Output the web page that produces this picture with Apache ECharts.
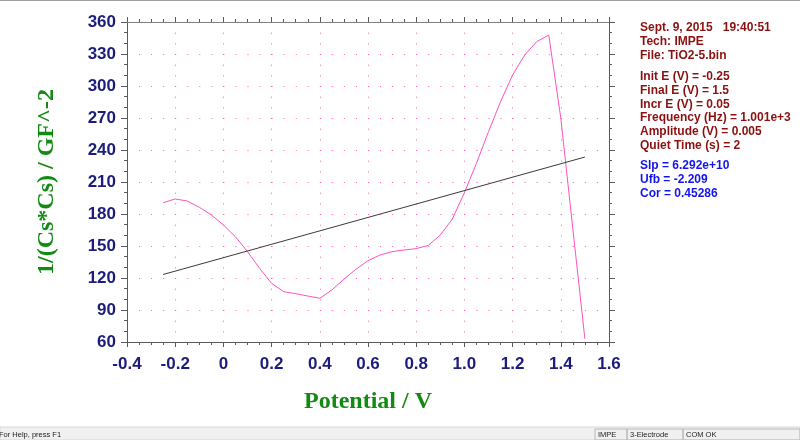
<!DOCTYPE html>
<html>
<head>
<meta charset="utf-8">
<script src="https://cdn.jsdelivr.net/npm/echarts/dist/echarts.min.js"></script>
<style>
  html, body { margin: 0; padding: 0; background: #fff; }
  #chart { width: 800px; height: 440px; }
</style>
</head>
<body>
<div id="chart"></div>
<script>
// potential (V) and 1/(Cs*Cs) readings
var potential = [-0.25, -0.2, -0.15, -0.1, -0.05, 0, 0.05, 0.1, 0.15, 0.2, 0.25, 0.3,
  0.35, 0.4, 0.45, 0.5, 0.55, 0.6, 0.65, 0.7, 0.75, 0.8, 0.85, 0.9,
  0.95, 1.0, 1.05, 1.1, 1.15, 1.2, 1.25, 1.3, 1.35, 1.4, 1.45, 1.5];
var invCs2 = [190.6, 194.1, 192.2, 186.3, 179.1, 169.7, 158.7, 144.7, 129.1, 115, 107.2, 105.3,
  103.1, 101, 108.8, 118.8, 128.2, 136.2, 141.6, 144.7, 146.3, 147.5, 150.6, 160.3,
  175.3, 200, 227.5, 257.2, 285.3, 310.3, 329, 341.6, 347.8, 270, 166, 63];
// fitted line end points
var fitX = [-0.25, 1.5];
var fitY = [123.3, 233.4];

var xTickLabels = ['-0.4', '-0.2', '0', '0.2', '0.4', '0.6', '0.8', '1.0', '1.2', '1.4', '1.6'];
var yTickLabels = ['60', '90', '120', '150', '180', '210', '240', '270', '300', '330', '360'];

var infoLines = ['Sept. 9, 2015   19:40:51', 'Tech: IMPE', 'File: TiO2-5.bin'];
var paramLines = ['Init E (V) = -0.25', 'Final E (V) = 1.5', 'Incr E (V) = 0.05',
  'Frequency (Hz) = 1.001e+3', 'Amplitude (V) = 0.005', 'Quiet Time (s) = 2'];
var fitLines = ['Slp = 6.292e+10', 'Ufb = -2.209', 'Cor = 0.45286'];

var chart = echarts.init(document.getElementById('chart'));

var axisCol = '#5a5a5a';
var dotCol = '#ff5cbe';
var labelFont = { color: '#1c1c7c', fontFamily: 'Arial, Liberation Sans', fontWeight: 'bold', fontSize: 17 };

function xFmt(v) {
  var i = Math.round((v + 0.4) / 0.2);
  return xTickLabels[i] !== undefined ? xTickLabels[i] : '';
}
function yFmt(v) {
  var i = Math.round((v - 60) / 30);
  return yTickLabels[i] !== undefined ? yTickLabels[i] : '';
}

var graphics = [];
// window frame line at top
graphics.push({ type: 'rect', shape: { x: 0, y: 0, width: 800, height: 1 }, style: { fill: '#a0a0a0' } });
// text panel
var panelFont = 'bold 12px Arial, Liberation Sans';
var ty = [28, 42, 56];
infoLines.forEach(function (t, i) {
  graphics.push({ type: 'text', x: 640, y: ty[i], style: { text: t, fill: '#8b1010', font: panelFont, textVerticalAlign: 'middle' } });
});
var py = [77, 91, 105, 118, 132, 146];
paramLines.forEach(function (t, i) {
  graphics.push({ type: 'text', x: 640, y: py[i], style: { text: t, fill: '#8b1010', font: panelFont, textVerticalAlign: 'middle' } });
});
var fy = [166, 180, 194];
fitLines.forEach(function (t, i) {
  graphics.push({ type: 'text', x: 640, y: fy[i], style: { text: t, fill: '#1414f0', font: panelFont, textVerticalAlign: 'middle' } });
});
// status bar
graphics.push({ type: 'rect', shape: { x: 0, y: 427, width: 800, height: 13 }, style: { fill: '#f0f0f0', stroke: '#d8d8d8', lineWidth: 1 } });
graphics.push({ type: 'text', x: -1, y: 435, style: { text: 'For Help, press F1', fill: '#222', font: '7.5px Liberation Sans', textVerticalAlign: 'middle' } });
[[595, 32, 'IMPE'], [627, 56, '3-Electrode'], [683, 117, 'COM OK']].forEach(function (p) {
  graphics.push({ type: 'rect', shape: { x: p[0], y: 429, width: p[1], height: 11 }, style: { fill: 'none', stroke: '#b8b8b8', lineWidth: 1 } });
  graphics.push({ type: 'text', x: p[0] + 3, y: 435, style: { text: p[2], fill: '#222', font: '7.5px Liberation Sans', textVerticalAlign: 'middle' } });
});

var option = {
  animation: false,
  backgroundColor: '#ffffff',
  grid: { left: 127, right: 191, top: 22, bottom: 98, containLabel: false },
  xAxis: [
    {
      type: 'value', min: -0.4, max: 1.6, interval: 0.2, position: 'bottom',
      name: 'Potential / V', nameLocation: 'middle', nameGap: 48,
      nameTextStyle: { color: '#138a13', fontFamily: 'Times New Roman, Liberation Serif', fontWeight: 'bold', fontSize: 24 },
      axisLine: { show: true, onZero: false, lineStyle: { color: axisCol, width: 1 } },
      axisTick: { show: true, inside: false, length: 5, lineStyle: { color: axisCol } },
      minorTick: { show: true, splitNumber: 4, length: 3, lineStyle: { color: axisCol } },
      axisLabel: Object.assign({ margin: 14, formatter: xFmt }, labelFont),
      splitLine: { show: true, lineStyle: { color: dotCol, width: 1, type: [1, 9.667] } }
    },
    {
      type: 'value', min: -0.4, max: 1.6, interval: 0.2, position: 'top',
      axisLine: { show: true, onZero: false, lineStyle: { color: '#808080', width: 1 } },
      axisTick: { show: true, inside: false, length: 5, lineStyle: { color: axisCol } },
      minorTick: { show: true, splitNumber: 4, length: 3, lineStyle: { color: axisCol } },
      axisLabel: { show: false },
      splitLine: { show: false }
    }
  ],
  yAxis: [
    {
      type: 'value', min: 60, max: 360, interval: 30, position: 'left',
      name: '1/(Cs*Cs) / GF^-2', nameLocation: 'middle', nameGap: 68, nameRotate: 90,
      nameTextStyle: { color: '#138a13', fontFamily: 'Times New Roman, Liberation Serif', fontWeight: 'bold', fontSize: 24 },
      axisLine: { show: true, onZero: false, lineStyle: { color: axisCol, width: 1 } },
      axisTick: { show: true, inside: false, length: 6, lineStyle: { color: axisCol } },
      minorTick: { show: true, splitNumber: 3, length: 3, lineStyle: { color: axisCol } },
      axisLabel: Object.assign({ margin: 11, formatter: yFmt }, labelFont),
      splitLine: { show: true, lineStyle: { color: dotCol, width: 1, type: [1, 11.05] } }
    },
    {
      type: 'value', min: 60, max: 360, interval: 30, position: 'right',
      axisLine: { show: true, onZero: false, lineStyle: { color: axisCol, width: 1 } },
      axisTick: { show: true, inside: false, length: 6, lineStyle: { color: axisCol } },
      minorTick: { show: true, splitNumber: 3, length: 3, lineStyle: { color: axisCol } },
      axisLabel: { show: false },
      splitLine: { show: false }
    }
  ],
  series: [
    {
      type: 'line', xAxisIndex: 0, yAxisIndex: 0,
      data: potential.map(function (x, i) { return [x, invCs2[i]]; }),
      showSymbol: false, smooth: false,
      lineStyle: { color: '#ff52bc', width: 1 }, itemStyle: { color: '#ff52bc' }
    },
    {
      type: 'line', xAxisIndex: 0, yAxisIndex: 0,
      data: fitX.map(function (x, i) { return [x, fitY[i]]; }),
      showSymbol: false,
      lineStyle: { color: '#3a3a3a', width: 1 }, itemStyle: { color: '#3a3a3a' }
    }
  ],
  graphic: graphics
};

chart.setOption(option);
window.addEventListener('resize', function () { chart.resize(); });
</script>
</body>
</html>
